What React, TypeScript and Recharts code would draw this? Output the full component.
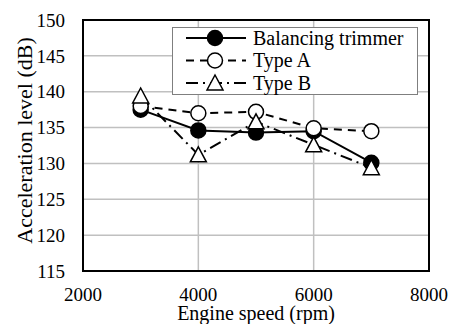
import { LineChart, Line, XAxis, YAxis, CartesianGrid, Legend, ReferenceArea } from 'recharts'

const rpm = [3000, 4000, 5000, 6000, 7000]
const balancing = [137.5, 134.6, 134.3, 134.5, 130.1]
const typeA = [138, 137, 137.2, 134.9, 134.5]
const typeB = [139.4, 131.2, 135.8, 132.6, 129.4]
const xTicks = [2000, 4000, 6000, 8000]
const yTicks = [115, 120, 125, 130, 135, 140, 145, 150]

const serif = { fontFamily: 'Liberation Serif, Times New Roman, serif' }

const data = rpm.map((r, i) => ({ rpm: r, balancing: balancing[i], typeA: typeA[i], typeB: typeB[i] }))

type Marker = 'filled' | 'open' | 'triangle'

const series: { key: string; name: string; dash?: string; marker: Marker }[] = [
  { key: 'balancing', name: 'Balancing trimmer', marker: 'filled' },
  { key: 'typeA', name: 'Type A', dash: '8 6', marker: 'open' },
  { key: 'typeB', name: 'Type B', dash: '12 5 2 5', marker: 'triangle' },
]

function drawMarker(kind: Marker, cx: number, cy: number, key?: string | number) {
  if (kind === 'triangle') {
    const d = `M${cx},${cy - 8} L${cx + 8},${cy + 7} L${cx - 8},${cy + 7} Z`
    return <path key={key} d={d} fill="#fff" stroke="#000" strokeWidth={1.5} />
  }
  return (
    <circle key={key} cx={cx} cy={cy} r={7.5} fill={kind === 'filled' ? '#000' : '#fff'} stroke="#000" strokeWidth={1.5} />
  )
}

function LegendBox({ payload }: any) {
  return (
    <svg width={246} height={68} style={{ display: 'block' }}>
      <rect x={0.5} y={0.5} width={245} height={67} fill="#fff" stroke="#7f7f7f" />
      {(payload || []).map((entry: any, i: number) => {
        const s = series.find((x) => x.name === entry.value) || series[i]
        const y = 11 + i * 22.5
        return (
          <g key={s.key}>
            <line x1={14} x2={74} y1={y} y2={y} stroke="#000" strokeWidth={2} strokeDasharray={s.dash} />
            {drawMarker(s.marker, 43, y)}
            <text x={81} y={y + 6.5} fill="#000" style={{ ...serif, fontSize: 20 }}>
              {entry.value}
            </text>
          </g>
        )
      })}
    </svg>
  )
}

function XTick({ x, y, payload }: any) {
  return (
    <text x={x} y={y} dy="0.71em" textAnchor="middle" fill="#000" style={{ ...serif, fontSize: 19 }}>
      {payload.value}
    </text>
  )
}

function YTick({ x, y, payload }: any) {
  return (
    <text x={x} y={y} dy="0.35em" textAnchor="end" fill="#000" style={{ ...serif, fontSize: 19 }}>
      {payload.value}
    </text>
  )
}

function XTitle({ viewBox }: any) {
  const cx = viewBox.x + viewBox.width / 2
  return (
    <text x={cx} y={320} textAnchor="middle" fill="#000" style={{ ...serif, fontSize: 20 }}>
      Engine speed (rpm)
    </text>
  )
}

function YTitle({ viewBox }: any) {
  const cy = viewBox.y + viewBox.height / 2 - 5
  const x = 32
  return (
    <text x={x} y={cy} transform={`rotate(-90, ${x}, ${cy})`} textAnchor="middle" fill="#000" style={{ ...serif, fontSize: 22 }}>
      Acceleration level (dB)
    </text>
  )
}

export default function App() {
  return (
    <div style={{ position: 'absolute', left: 0, top: 0, width: 450, height: 324, background: '#fff' }}>
      <LineChart width={450} height={324} data={data} margin={{ top: 20, right: 21, bottom: 0, left: 0 }}>
        <CartesianGrid stroke="#c0c0c0" strokeWidth={1.5} />
        <XAxis
          dataKey="rpm"
          type="number"
          domain={[2000, 8000]}
          ticks={xTicks}
          height={53}
          axisLine={false}
          tickLine={false}
          tickSize={0}
          tickMargin={17}
          tick={<XTick />}
          label={<XTitle />}
        />
        <YAxis
          type="number"
          domain={[115, 150]}
          ticks={yTicks}
          width={83}
          axisLine={false}
          tickLine={false}
          tickSize={0}
          tickMargin={18}
          tick={<YTick />}
          label={<YTitle />}
        />
        <ReferenceArea x1={2000} x2={8000} y1={115} y2={150} fill="none" stroke="#000" strokeWidth={2} strokeOpacity={1} fillOpacity={0} />
        {series.map((s) => (
          <Line
            key={s.key}
            dataKey={s.key}
            name={s.name}
            type="linear"
            stroke="#000"
            strokeWidth={2}
            strokeDasharray={s.dash}
            isAnimationActive={false}
            dot={(p: any) => drawMarker(s.marker, p.cx, p.cy, `${s.key}-${p.index}`)}
            activeDot={false}
          />
        ))}
        <Legend
          layout="horizontal"
          verticalAlign="middle"
          align="center"
          content={<LegendBox />}
          wrapperStyle={{ left: 172, top: 27, width: 246, height: 68 }}
        />
      </LineChart>
    </div>
  )
}
